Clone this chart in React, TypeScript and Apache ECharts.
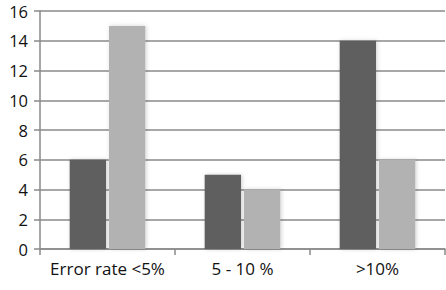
import React, { useEffect, useRef } from "react";
import * as echarts from "echarts";

const categories = ["Error rate <5%", "5 - 10 %", ">10%"];
const seriesA = [6, 5, 14];
const seriesB = [15, 4, 6];
const yTicks = { min: 0, max: 16, interval: 2 };

export default function App() {
  const ref = useRef<HTMLDivElement>(null);
  useEffect(() => {
    if (!ref.current) return;
    const chart = echarts.init(ref.current, null, { renderer: "svg" });
    const font = "'Open Sans', Lato, sans-serif";
    const barStyle = (color: string) => ({
      color,
      shadowColor: "rgba(0,0,0,0.18)",
      shadowBlur: 4,
      shadowOffsetX: 1,
      shadowOffsetY: 0,
    });
    chart.setOption({
      animation: false,
      grid: { left: 40, right: 1, top: 11, bottom: 41, containLabel: false },
      xAxis: {
        type: "category",
        data: categories,
        axisLine: { lineStyle: { color: "#8a8a8a", width: 1.5 } },
        axisTick: { show: true, length: 6, lineStyle: { color: "#8a8a8a", width: 1.5 } },
        axisLabel: { color: "#111", fontFamily: font, fontSize: 17, margin: 11, interval: 0 },
      },
      yAxis: {
        type: "value",
        min: yTicks.min,
        max: yTicks.max,
        interval: yTicks.interval,
        axisLine: { show: true, lineStyle: { color: "#8a8a8a", width: 1.5 } },
        axisTick: { show: true, length: 6, lineStyle: { color: "#8a8a8a", width: 1.5 } },
        splitLine: { show: true, lineStyle: { color: "#8a8a8a", width: 1.5 } },
        axisLabel: { color: "#111", fontFamily: font, fontSize: 16.5, lineHeight: 16, margin: 12, verticalAlign: "middle" },
      },
      series: [
        {
          type: "bar",
          data: seriesA,
          barGap: "8%",
          barCategoryGap: "44%",
          itemStyle: barStyle("#5f5f5f"),
        },
        {
          type: "bar",
          data: seriesB,
          itemStyle: barStyle("#b2b2b2"),
        },
      ],
    });
    return () => chart.dispose();
  }, []);
  return <div ref={ref} style={{ width: 446, height: 290, position: "absolute", left: 0, top: 0, background: "#fff" }} />;
}
